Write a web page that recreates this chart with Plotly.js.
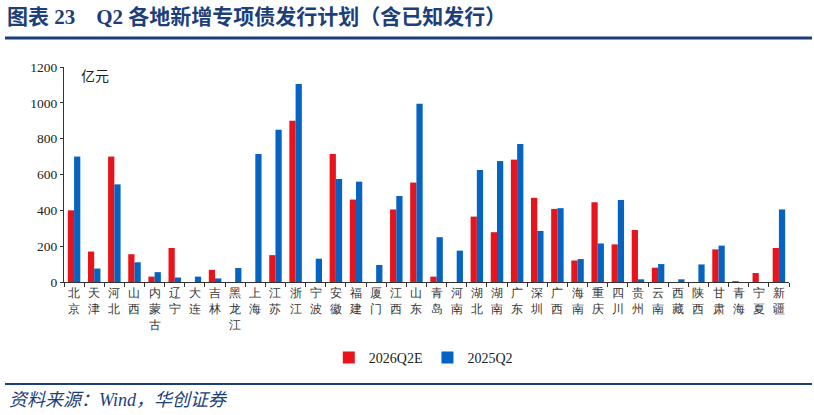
<!DOCTYPE html>
<html>
<head>
<meta charset="utf-8">
<script src="https://cdn.plot.ly/plotly-3.0.1.min.js"></script>
<style>
  html, body { margin: 0; padding: 0; background: #ffffff; }
  #chart { width: 814px; height: 415px; }
</style>
</head>
<body>
<div id="chart"></div>
<script>
// 各地区新增专项债发行计划（亿元）
const regions = ['北京','天津','河北','山西','内蒙古','辽宁','大连','吉林','黑龙江','上海',
  '江苏','浙江','宁波','安徽','福建','厦门','江西','山东','青岛','河南',
  '湖北','湖南','广东','深圳','广西','海南','重庆','四川','贵州','云南',
  '西藏','陕西','甘肃','青海','宁夏','新疆'];
const plan2026Q2E = [400,170,700,155,30,190,0,68,0,0,
  150,900,0,715,460,0,405,555,30,0,
  365,278,683,470,408,120,445,210,290,80,
  0,0,182,5,50,190];
const issued2025Q2 = [700,75,545,110,55,25,30,20,78,715,
  850,1105,130,575,560,95,480,995,250,175,
  625,675,770,285,412,128,215,458,15,100,
  15,98,203,0,0,405];
const seriesNames = ['2026Q2E','2025Q2'];
const yTicks = [0,200,400,600,800,1000,1200];

// vertical labels: one character per line
const verticalText = regions.map(r => r.split('').join('<br>'));

const navy = '#1c3f7a';
const serif = '"Liberation Serif", "Times New Roman", serif';
const cjk = '"Noto Sans CJK SC", "Liberation Serif", serif';

// plot area in pixels
const L = 64, R = 789, T = 67, B = 282, W = 814, H = 415;
const px = x => (x - L) / (R - L);
const py = y => (B - y) / (B - T);

const traces = [
  { type: 'bar', name: seriesNames[0], x: regions, y: plan2026Q2E,
    marker: { color: '#e8141c' } },
  { type: 'bar', name: seriesNames[1], x: regions, y: issued2025Q2,
    marker: { color: '#0563c1' } }
];

const layout = {
  width: W, height: H,
  margin: { l: L, r: W - R, t: T, b: H - B, pad: 0 },
  paper_bgcolor: '#ffffff', plot_bgcolor: '#ffffff',
  barmode: 'group', bargap: 0.38, bargroupgap: 0,
  showlegend: true,
  legend: { orientation: 'h', x: 0.52, xanchor: 'center', xref: 'container',
    y: 1 - 358 / H, yref: 'container', yanchor: 'middle',
    font: { family: serif, size: 14, color: '#222' },
    itemwidth: 30, tracegroupgap: 0 },
  title: { text: '图表 23　Q2 各地新增专项债发行计划（含已知发行）',
    xref: 'container', yref: 'container', x: 7 / W, xanchor: 'left',
    y: 1 - 17 / H, yanchor: 'middle',
    font: { family: '"Liberation Serif", "Noto Sans CJK SC", serif', size: 21, color: navy, weight: 'bold' } },
  xaxis: {
    type: 'category', tickmode: 'array', tickvals: regions, ticktext: verticalText,
    tickangle: 0, ticks: 'outside', tickson: 'boundaries', ticklen: 4,
    tickcolor: '#333', showline: true, linecolor: '#333', linewidth: 1,
    showgrid: false, zeroline: false,
    tickfont: { family: serif, size: 12, color: '#333' }
  },
  yaxis: {
    range: [0, 1200], tickmode: 'array', tickvals: yTicks,
    ticks: 'outside', ticklen: 3, tickcolor: '#333',
    showline: true, linecolor: '#333', linewidth: 1,
    showgrid: false, zeroline: false,
    tickfont: { family: serif, size: 13.5, color: '#222' }
  },
  annotations: [
    { text: '亿元', xref: 'paper', yref: 'paper', x: px(79), y: py(75),
      xanchor: 'left', yanchor: 'middle', showarrow: false,
      font: { family: cjk, size: 14, color: '#222' } },
    { text: '<i>资料来源：Wind，华创证券</i>', xref: 'paper', yref: 'paper',
      x: px(7), y: py(400), xanchor: 'left', yanchor: 'middle', showarrow: false,
      font: { family: '"Liberation Serif", "Noto Sans CJK SC", serif', size: 18, color: navy } }
  ],
  shapes: [
    { type: 'line', xref: 'paper', yref: 'paper', x0: px(5), x1: px(812),
      y0: py(38), y1: py(38), line: { color: navy, width: 3 } },
    { type: 'line', xref: 'paper', yref: 'paper', x0: px(5), x1: px(812),
      y0: py(384), y1: py(384), line: { color: navy, width: 2 } }
  ]
};

Plotly.newPlot('chart', traces, layout, { displayModeBar: false, staticPlot: true });
</script>
</body>
</html>
